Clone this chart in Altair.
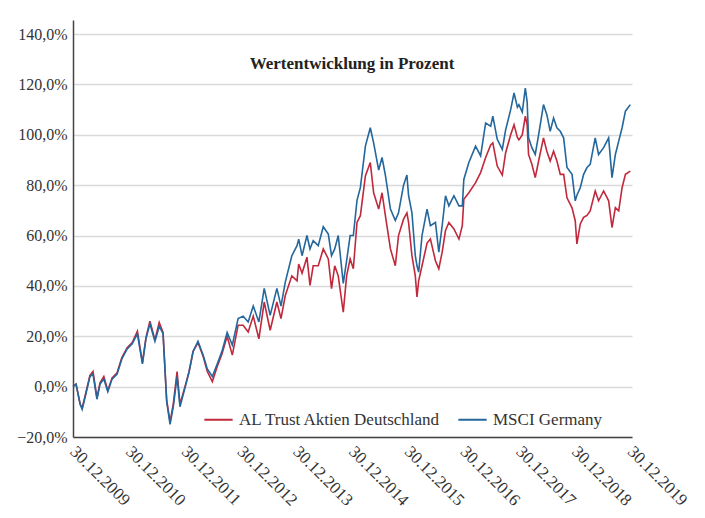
import altair as alt
import pandas as pd

dates = [
    "2009-12-30", "2010-01-19", "2010-02-15", "2010-02-28", "2010-03-20", "2010-04-20",
    "2010-05-10", "2010-06-05", "2010-06-25", "2010-07-20", "2010-08-15", "2010-09-12",
    "2010-10-15", "2010-11-15", "2010-12-20", "2011-01-22", "2011-02-25", "2011-03-30",
    "2011-04-22", "2011-05-18", "2011-06-20", "2011-07-18", "2011-08-12", "2011-09-05",
    "2011-09-27", "2011-10-18", "2011-11-12", "2011-12-01", "2012-01-05", "2012-01-30",
    "2012-02-25", "2012-03-28", "2012-05-01", "2012-05-28", "2012-06-30", "2012-08-01",
    "2012-09-01", "2012-10-05", "2012-11-08", "2012-12-16", "2013-01-18", "2013-02-20",
    "2013-03-25", "2013-05-01", "2013-06-05", "2013-07-14", "2013-08-27", "2013-09-23",
    "2013-10-21", "2013-12-03", "2014-01-06", "2014-01-17", "2014-02-08", "2014-03-12",
    "2014-04-01", "2014-04-22", "2014-05-25", "2014-06-27", "2014-07-30", "2014-08-20",
    "2014-09-10", "2014-10-03", "2014-11-05", "2014-11-27", "2014-12-20", "2015-01-10",
    "2015-02-03", "2015-02-25", "2015-03-30", "2015-05-01", "2015-05-23", "2015-06-25",
    "2015-07-17", "2015-08-08", "2015-09-10", "2015-10-12", "2015-11-02", "2015-12-05",
    "2015-12-27", "2016-01-07", "2016-01-29", "2016-02-20", "2016-03-02", "2016-03-13",
    "2016-04-04", "2016-05-07", "2016-05-29", "2016-07-01", "2016-07-23", "2016-08-14",
    "2016-09-05", "2016-09-27", "2016-10-30", "2016-12-02", "2016-12-24", "2017-01-03",
    "2017-02-05", "2017-03-21", "2017-04-23", "2017-05-26", "2017-06-28", "2017-07-12",
    "2017-08-10", "2017-09-12", "2017-10-04", "2017-11-06", "2017-11-28", "2017-12-20",
    "2017-12-30", "2018-01-21", "2018-02-10", "2018-02-22", "2018-03-03", "2018-03-25",
    "2018-04-16", "2018-05-08", "2018-06-09", "2018-07-01", "2018-07-23", "2018-08-14",
    "2018-09-05", "2018-09-27", "2018-10-19", "2018-11-10", "2018-12-13", "2019-01-03",
    "2019-01-14", "2019-02-05", "2019-02-27", "2019-03-21", "2019-04-11", "2019-05-14",
    "2019-06-05", "2019-07-08", "2019-08-10", "2019-09-01", "2019-09-23", "2019-10-15",
    "2019-11-06", "2019-11-28", "2019-12-30",
]

msci = [
    0, 1, -7, -9, -4, 4,
    5, -5, 1, 3, -2, 3,
    5, 11, 15, 17, 21, 9,
    19, 25, 18, 24, 21, -6,
    -15, -8, 4, -8, 0, 6,
    14, 18, 12.5, 7, 4, 9,
    14, 21.5, 16.5, 27, 28, 25.7,
    32, 25.7, 39, 28.3, 39, 32,
    41.5, 52, 56, 58.6, 52, 60,
    54.7, 58, 56, 63.5, 60.6, 52,
    54.7, 60, 41, 50, 60, 60,
    74, 79, 95.5, 102.8, 96.8, 86,
    91, 84, 70.5, 66, 69, 80,
    84, 75.8, 69, 52, 48, 45.5,
    60, 70.5, 63.9, 65.2, 53.4, 63.9,
    75.8, 71.8, 75.8, 71.8, 71.8, 82.3,
    89, 95.5, 91.6, 104.7, 103.4, 107.4,
    98.2, 94.2, 102, 110, 116.6, 111,
    112, 109, 118.6, 113, 98.8, 94.9,
    92.2, 100, 112, 108, 101.4, 106.7,
    102.8, 101.4, 98.8, 87, 84.3, 73.8,
    76, 79, 84.3, 87, 88.3, 98.8,
    92.2, 94.9, 98.8, 83, 92.2, 97.5,
    102.8, 109.4, 112,
]

al_trust = [
    0, 1, -7, -8.5, -3.5, 4.5,
    6, -4.5, 1.5, 4, -1.5, 3.5,
    5.5, 11.5, 15.5, 17.5, 22, 9.5,
    19.5, 26, 18.5, 25.5, 21.5, -5.5,
    -14, -7, 6, -7, 0.5, 6,
    14, 17.5, 12, 6, 2, 8,
    13, 20, 12.5, 24.4, 24.4, 21.7,
    28, 19, 33.6, 22.4, 33.6, 27,
    36.2, 44, 42, 48.7, 45, 51.4,
    40.2, 48, 48, 54.7, 50.7, 38.9,
    48, 44, 29.6, 44, 50.7, 46.8,
    65.2, 67.9, 83.7, 89, 77, 70.5,
    77, 67.9, 54.7, 48, 60, 66.5,
    69, 65.2, 52, 44, 35.6, 42,
    48, 57, 58.6, 50, 46.8, 53.4,
    62, 65.2, 62.6, 58.6, 63.9, 74.4,
    77, 81, 85, 91, 96, 96.8,
    87.6, 84, 92.9, 100, 104, 99,
    98, 100, 107.4, 104, 92.2, 88.3,
    83, 89.6, 98.8, 93.5, 89.6, 93.5,
    89.6, 84.3, 84.3, 75, 71, 65.9,
    56.7, 64.6, 67.2, 68, 69.8, 77.7,
    73.8, 77.7, 73.8, 63.2, 71.1, 69.8,
    79, 84.3, 85.6,
]

series_names = ["AL Trust Aktien Deutschland", "MSCI Germany"]
series_colors = ["#c0283c", "#23679c"]
tick_years = list(range(2009, 2020))
y_ticks = [-20, 0, 20, 40, 60, 80, 100, 120, 140]
title_text = "Wertentwicklung in Prozent"

FONT = "Liberation Serif"
n = len(dates)
df = pd.DataFrame({
    "date": dates + dates,
    "value": al_trust + msci,
    "series": [series_names[0]] * n + [series_names[1]] * n,
})

x_enc = alt.X(
    "date:T",
    scale=alt.Scale(
        type="utc",
        domain=[
            alt.DateTime(year=2009, month=12, date=30, utc=True),
            alt.DateTime(year=2020, month=1, date=10, utc=True),
        ],
    ),
    axis=alt.Axis(
        values=[alt.DateTime(year=y, month=12, date=30, utc=True) for y in tick_years],
        labelExpr="utcFormat(datum.value, '%d.%m.%Y')",
        labelAngle=45,
        labelAlign="left",
        labelBaseline="top",
        labelOverlap=False,
        labelPadding=6,
        labelOffset=5,
        labelFont=FONT,
        labelFontSize=17,
        labelColor="#333333",
        grid=False,
        ticks=False,
        domainColor="#444444",
        domainWidth=1.5,
        title=None,
    ),
)

y_enc = alt.Y(
    "value:Q",
    scale=alt.Scale(domain=[-20, 145.6], nice=False, zero=False),
    axis=alt.Axis(
        values=y_ticks,
        labelExpr="replace(format(datum.value, '.1f'), '.', ',') + '%'",
        labelFont=FONT,
        labelFontSize=16,
        labelColor="#333333",
        labelPadding=6,
        ticks=False,
        grid=True,
        gridColor="#d9d9d9",
        gridWidth=1.5,
        domainColor="#444444",
        domainWidth=1.5,
        title=None,
    ),
)

color_enc = alt.Color(
    "series:N",
    scale=alt.Scale(domain=series_names, range=series_colors),
    legend=alt.Legend(
        orient="none",
        legendX=130,
        legendY=384,
        direction="horizontal",
        title=None,
        symbolType="stroke",
        symbolSize=800,
        symbolStrokeWidth=2,
        labelFont=FONT,
        labelFontSize=17,
        labelColor="#333333",
        labelOffset=5,
        labelLimit=0,
        columnPadding=13,
        padding=0,
    ),
)

base = alt.Chart(df).encode(x=x_enc, y=y_enc, color=color_enc)
red = base.transform_filter(alt.datum.series == series_names[0]).mark_line(strokeWidth=1.6)
blue = base.transform_filter(alt.datum.series == series_names[1]).mark_line(strokeWidth=1.6)

title = alt.Chart(pd.DataFrame({"t": [title_text]})).mark_text(
    font=FONT, fontSize=17, fontWeight="bold", color="#222222", align="center", baseline="middle"
).encode(text="t:N", x=alt.value(279), y=alt.value(44))

chart = alt.layer(red, blue, title).properties(
    width=559,
    height=417,
    padding={"left": 65, "top": 12, "right": 60, "bottom": 75},
    autosize=alt.AutoSizeParams(type="none"),
).configure_view(stroke=None)

chart.save("out.html", embed_options={"renderer": "svg", "actions": False})
